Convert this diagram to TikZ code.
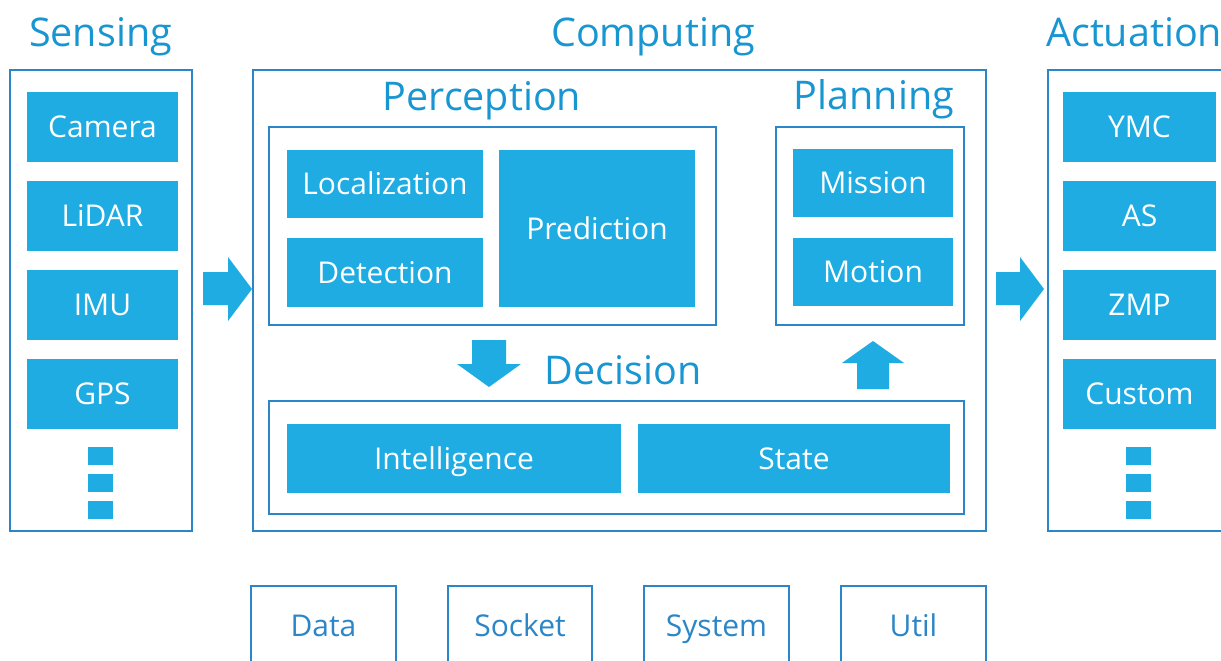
\documentclass[tikz,border=0pt]{standalone}
\usepackage{fontspec}
\setmainfont{Open Sans}
\definecolor{fillc}{RGB}{30,172,227}
\definecolor{linec}{RGB}{43,134,200}
\definecolor{titlec}{RGB}{24,150,210}
\tikzset{
  fillbox/.style={fill=fillc, draw=none, text=white, font=\fontsize{30}{34}\selectfont, inner sep=0pt, text height=21.4pt, text depth=0pt},
  framebox/.style={draw=linec, line width=2.5pt, fill=none, inner sep=0pt},
  title/.style={text=titlec, font=\fontsize{39.5}{46}\selectfont, inner sep=0pt, text height=28.2pt, text depth=0pt},
  libbox/.style={draw=linec, line width=2.5pt, inner sep=0pt},
  libtext/.style={text=linec, font=\fontsize{30}{34}\selectfont, inner sep=0pt, text height=21.4pt, text depth=0pt},
  dot/.style={fill=fillc, draw=none, minimum width=25pt, minimum height=18pt, inner sep=0pt},
  blockarrow/.style={fill=fillc, draw=none}
}
\begin{document}
\begin{tikzpicture}[x=1pt,y=-1pt]
\clip (0,0) rectangle (1221,661);
\fill[white] (0,0) rectangle (1221,661);
% titles
\node[title] (tsens) at (100.5,32) {Sensing};
\node[title] (tcomp) at (653,32) {Computing};
\node[title, anchor=west] (tact) at (1046,32) {Actuation};
% Sensing
\node[framebox, minimum width=182pt, minimum height=461pt] (sens) at (101,300.5) {};
\node[fillbox, minimum width=151pt, minimum height=70pt] (camera) at (102.5,127) {Camera};
\node[fillbox, minimum width=151pt, minimum height=70pt] (lidar) at (102.5,216) {LiDAR};
\node[fillbox, minimum width=151pt, minimum height=70pt] (imu) at (102.5,305) {IMU};
\node[fillbox, minimum width=151pt, minimum height=70pt] (gps) at (102.5,394) {GPS};
\node[dot] (sd1) at (100.5,456) {};
\node[dot] (sd2) at (100.5,482.5) {};
\node[dot] (sd3) at (100.5,510) {};
% Computing
\node[framebox, minimum width=733pt, minimum height=461pt] (comp) at (619.5,300.5) {};
\node[title] (tperc) at (482,96) {Perception};
\node[framebox, minimum width=447pt, minimum height=198pt] (perc) at (492.5,226) {};
\node[fillbox, minimum width=196pt, minimum height=68pt] (loc) at (385,184) {Localization};
\node[fillbox, minimum width=196pt, minimum height=69pt] (det) at (385,272.5) {Detection};
\node[fillbox, minimum width=196pt, minimum height=157pt] (pred) at (597,228.5) {Prediction};
\node[title] (tplan) at (874,95) {Planning};
\node[framebox, minimum width=188pt, minimum height=198pt] (plan) at (870,226) {};
\node[fillbox, minimum width=160pt, minimum height=68pt] (mission) at (873,183) {Mission};
\node[fillbox, minimum width=160pt, minimum height=68pt] (motion) at (873,272) {Motion};
\node[title] (tdec) at (623,370.5) {Decision};
\node[framebox, minimum width=695pt, minimum height=113pt] (dec) at (616.5,457.5) {};
\node[fillbox, minimum width=334pt, minimum height=69pt] (intel) at (454,458.5) {Intelligence};
\node[fillbox, minimum width=312pt, minimum height=69pt] (state) at (794,458.5) {State};
% Actuation
\node[framebox, minimum width=190pt, minimum height=461pt] (act) at (1143,300.5) {};
\node[fillbox, minimum width=153pt, minimum height=70pt] (ymc) at (1139.5,127) {YMC};
\node[fillbox, minimum width=153pt, minimum height=70pt] (as) at (1139.5,216) {AS};
\node[fillbox, minimum width=153pt, minimum height=70pt] (zmp) at (1139.5,305) {ZMP};
\node[fillbox, minimum width=153pt, minimum height=70pt] (custom) at (1139.5,394) {Custom};
\node[dot] (ad1) at (1138.5,456) {};
\node[dot] (ad2) at (1138.5,482.5) {};
\node[dot] (ad3) at (1138.5,510) {};
% block arrows
\fill[blockarrow] (203,272) -- (228,272) -- (228,257) -- (252,289) -- (228,321) -- (228,305) -- (203,305) -- cycle;
\fill[blockarrow] (996,272) -- (1020,272) -- (1020,257) -- (1044,289) -- (1020,321) -- (1020,305) -- (996,305) -- cycle;
\fill[blockarrow] (472,340) -- (506,340) -- (506,364) -- (521,364) -- (489,387) -- (457,364) -- (472,364) -- cycle;
\fill[blockarrow] (857,389) -- (889,389) -- (889,363) -- (904,363) -- (873,341) -- (842,363) -- (857,363) -- cycle;
% library boxes
\node[libbox, minimum width=145pt, minimum height=100pt] (data) at (323.5,636) {};
\node[libtext] (tdata) at (323.5,626) {Data};
\node[libbox, minimum width=144pt, minimum height=100pt] (socket) at (520,636) {};
\node[libtext] (tsocket) at (520,626) {Socket};
\node[libbox, minimum width=145pt, minimum height=100pt] (system) at (716.5,636) {};
\node[libtext] (tsystem) at (716.5,626) {System};
\node[libbox, minimum width=145pt, minimum height=100pt] (util) at (913.5,636) {};
\node[libtext] (tutil) at (913.5,626) {Util};
\end{tikzpicture}
\end{document}
